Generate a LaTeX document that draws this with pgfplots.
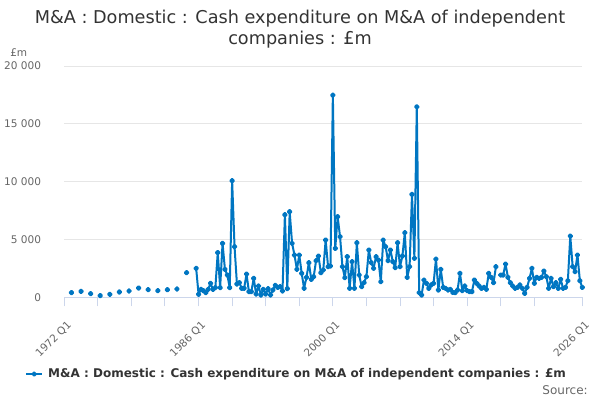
\documentclass[border=0pt]{standalone}
\usepackage{pgfplots}
\pgfplotsset{compat=1.18}
\usepackage{pgfplotstable}
\usepackage{fontspec}
\setmainfont{DejaVu Sans}
\definecolor{onsblue}{RGB}{0,118,194}
\definecolor{titlegray}{HTML}{333333}
\definecolor{labgray}{HTML}{666666}
\definecolor{gridgray}{HTML}{E6E6E6}
\definecolor{axisblue}{HTML}{CCD6EB}

\pgfplotstableread{
t v
3 403
5 nan
7 518
9 nan
11 317
13 nan
15 144
17 nan
19 259
21 nan
23 461
25 nan
27 547
29 nan
31 806
33 nan
35 662
37 nan
39 576
41 nan
43 662
45 nan
47 720
49 nan
51 2131
53 nan
55 2506
56 260
57 690
58 576
59 403
60 690
61 1210
62 690
63 835
64 3860
65 835
66 4666
67 2420
68 1930
69 835
70 10080
71 4378
72 1152
73 1267
74 778
75 778
76 2016
77 490
78 490
79 1642
80 288
81 980
82 200
83 690
84 288
85 750
86 200
87 634
88 1037
89 864
90 922
91 547
92 7142
93 750
94 7400
95 4666
96 3657
97 2420
98 3657
99 2073
100 778
101 1728
102 2995
103 1555
104 1786
105 3168
106 3571
107 2131
108 2362
109 4954
110 2650
111 2707
112 17480
113 4234
114 6970
115 5240
116 2650
117 1700
118 3514
119 778
120 3080
121 778
122 4723
123 1930
124 922
125 1267
126 1786
127 4090
128 2995
129 2506
130 3514
131 3226
132 1354
133 4954
134 4378
135 3168
136 4090
137 3080
138 2563
139 4723
140 2650
141 3571
142 5587
143 1728
144 2650
145 8900
146 3370
147 16474
148 403
149 200
150 1498
151 1210
152 778
153 1066
154 1210
155 3312
156 634
157 2420
158 864
159 778
160 634
161 690
162 432
163 403
164 634
165 2073
166 576
167 980
168 576
169 490
170 490
171 1498
172 1210
173 980
174 778
175 864
176 690
177 2073
178 1728
179 1267
180 2650
181 nan
182 1930
183 1930
184 2880
185 1728
186 1267
187 980
188 778
189 864
190 1066
191 778
192 346
193 864
194 1642
195 2506
196 1210
197 1728
198 1642
199 1728
200 2275
201 1786
202 778
203 1642
204 922
205 1267
206 778
207 1555
208 778
209 864
210 1440
211 5300
212 2650
213 2218
214 3657
215 1440
216 864
}\madata

\begin{document}
\begin{tikzpicture}
\path[use as bounding box] (0pt,0pt) rectangle (450pt,300pt);
\begin{axis}[
  at={(48.2pt,77pt)}, anchor=south west,
  scale only axis, width=388.5pt, height=173.5pt,
  xmin=0, xmax=216, ymin=0, ymax=20000,
  axis x line*=bottom, axis y line*=left,
  x axis line style={draw=axisblue, line width=0.75pt},
  y axis line style={draw=none},
  ymajorgrids, grid style={gridgray, line width=0.75pt},
  xtick={0,14,28,42,56,70,84,98,112,126,140,154,168,182,196,216},
  xticklabels={1972 Q1,,,,1986 Q1,,,,2000 Q1,,,,2014 Q1,,,2026 Q1},
  ytick={0,5000,10000,15000,20000},
  scaled ticks=false,
  /pgf/number format/assume math mode=true,
  /pgf/number format/1000 sep={\ },
  tick align=outside,
  xtick style={draw=axisblue, line width=0.75pt},
  ytick style={draw=none},
  major tick length=6.75pt,
  tick label style={font=\fontsize{7.9}{9}\selectfont, text=labgray},
  yticklabel style={inner sep=0pt, anchor=east, xshift=-10.5pt},
  xticklabel style={xshift=1.5pt, yshift=-10pt, rotate=45, anchor=north east, inner sep=0pt},
  unbounded coords=jump,
  legend style={at={(-0.0759,-0.3316)}, anchor=west, draw=none, fill=none,
     font=\fontsize{9.0}{11}\selectfont\bfseries, text=titlegray,
     inner sep=0pt, column sep=3.75pt, nodes={inner sep=0pt}},
  legend image code/.code={\draw[mark repeat=2, mark phase=2, mark size=1.2pt]
     plot coordinates {(0pt,0pt) (6pt,0pt) (12pt,0pt)};},
  clip=false,
]
\addplot[onsblue, line width=1.5pt, mark=*, mark size=1.35pt, line join=round]
  table[x=t, y=v] {\madata};
\addlegendentry{M\&A : Domestic : Cash expenditure on M\&A of independent companies : £m}
\end{axis}
\node[anchor=base, font=\fontsize{13.25}{15}\selectfont, text=titlegray] at (225pt,282pt)
  {M\&A : Domestic : Cash expenditure on M\&A of independent};
\node[anchor=base, font=\fontsize{13.25}{15}\selectfont, text=titlegray] at (225pt,266.25pt)
  {companies : £m};
\node[anchor=base west, inner sep=0pt, font=\fontsize{7.9}{9}\selectfont, text=labgray] at (7.5pt,257.5pt) {£m};
\node[anchor=base east, inner sep=0pt, font=\fontsize{9}{11}\selectfont, text=labgray] at (441pt,4.5pt) {Source:};
\end{tikzpicture}
\end{document}
